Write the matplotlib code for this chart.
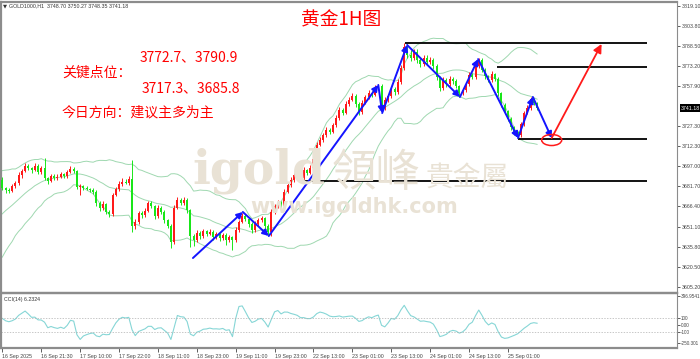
"""
  Gold 1H chart (16 Sep - 25 Sep) with Bollinger bands, CCI(14),
  key levels and the analyst's zigzag / target arrow.
"""

import numpy as np
import pandas as pd
import matplotlib
matplotlib.use("Agg")
import matplotlib.pyplot as plt
import matplotlib.transforms as mtransforms
from matplotlib.patches import Ellipse

CJK = ["Noto Sans CJK SC", "DejaVu Sans"]
SMALL = "Liberation Sans"

# hourly closes, one per bar (bar 0 = 16 Sep 2025)
closes = [
    3680.4, 3678.9, 3678.1, 3681.9, 3684.2, 3690.3, 3693.3, 3697.1, 3695.6, 3694.1,
    3697.1, 3692.6, 3695.6, 3688.0, 3685.7, 3689.5, 3688.0, 3688.8, 3691.0, 3689.5,
    3692.6, 3694.9, 3693.3, 3681.2, 3681.9, 3680.4, 3679.6, 3678.9, 3677.4, 3669.0,
    3665.2, 3668.2, 3662.2, 3660.6, 3675.1, 3679.6, 3683.4, 3685.0, 3684.2, 3687.2,
    3651.5, 3654.6, 3661.4, 3659.9, 3662.9, 3669.0, 3666.7, 3659.1, 3665.2, 3662.2,
    3656.1, 3651.5, 3639.4, 3665.2, 3671.3, 3669.0, 3671.3, 3663.7, 3643.9, 3640.9,
    3646.2, 3643.9, 3647.7, 3645.4, 3647.0, 3643.2, 3645.4, 3642.4, 3644.7, 3640.9,
    3643.2, 3640.9, 3648.5, 3654.6, 3659.1, 3656.9, 3653.0, 3648.5, 3653.0, 3656.1,
    3657.6, 3651.5, 3647.0, 3662.2, 3666.7, 3669.0, 3666.7, 3677.4, 3682.7, 3686.5,
    3690.3, 3691.0, 3688.0, 3694.1, 3691.8, 3695.6, 3702.4, 3713.1, 3716.9, 3720.7,
    3724.5, 3723.0, 3728.3, 3733.6, 3739.7, 3737.4, 3744.3, 3747.3, 3750.3, 3744.3,
    3738.2, 3745.0, 3749.6, 3752.6, 3751.1, 3756.4, 3757.9, 3741.2, 3747.3, 3750.3,
    3755.6, 3753.4, 3761.0, 3771.6, 3787.6, 3781.5, 3779.2, 3783.8, 3777.7, 3774.6,
    3779.2, 3776.2, 3777.7, 3773.1, 3764.8, 3756.4, 3762.5, 3759.4, 3763.2, 3761.7,
    3757.9, 3752.6, 3754.9, 3759.4, 3766.3, 3764.8, 3773.1, 3777.7, 3770.1, 3765.5,
    3762.5, 3767.0, 3763.2, 3752.6, 3743.5, 3738.9, 3732.9, 3726.8, 3722.2, 3720.7,
    3729.0, 3737.4, 3741.2, 3748.0, 3745.0, 3741.18,
]
first_open = 3686.5

# wick lengths above / below the candle body
upper_wick = [
    2.0, 1.0, 1.5, 1.2, 1.5, 2.0, 1.5, 2.5, 1.2, 1.0,
    2.0, 1.5, 1.8, 7.6, 1.0, 1.5, 1.2, 2.0, 1.5, 1.0,
    1.5, 2.0, 1.2, 1.0, 1.5, 1.0, 1.2, 1.0, 1.5, 1.2,
    1.5, 2.0, 1.0, 1.2, 1.5, 1.5, 2.0, 3.0, 2.0, 2.5,
    14.4, 2.0, 1.5, 1.2, 2.0, 1.5, 1.2, 1.0, 2.0, 1.5,
    1.2, 1.0, 1.5, 2.0, 2.5, 1.2, 2.0, 1.5, 1.0, 1.5,
    2.0, 1.2, 1.5, 1.0, 2.0, 1.2, 1.5, 1.0, 1.5, 1.2,
    1.5, 1.0, 2.0, 1.5, 2.0, 1.2, 1.0, 1.5, 2.0, 1.5,
    1.2, 1.0, 1.5, 2.0, 1.5, 2.0, 1.2, 2.0, 1.5, 2.0,
    1.5, 2.0, 1.2, 2.5, 1.0, 2.0, 1.5, 2.0, 2.5, 1.5,
    2.0, 1.5, 1.8, 2.0, 2.5, 1.5, 2.0, 2.0, 2.5, 1.5,
    1.2, 2.0, 1.5, 2.0, 1.5, 2.0, 1.5, 1.5, 2.0, 1.8,
    2.0, 1.5, 2.0, 2.5, 3.0, 2.0, 3.5, 2.0, 2.5, 1.5,
    2.0, 2.5, 2.0, 1.5, 1.5, 1.0, 2.0, 1.5, 2.0, 1.5,
    1.2, 1.0, 1.5, 1.5, 2.0, 1.5, 2.0, 1.5, 1.2, 1.5,
    1.0, 2.0, 1.2, 1.5, 1.0, 1.2, 1.0, 1.5, 1.0, 1.2,
    1.5, 1.5, 2.0, 1.5, 1.2, 1.0,
]
lower_wick = [
    1.5, 2.0, 1.5, 1.0, 1.2, 1.5, 2.0, 1.0, 1.5, 2.0,
    1.0, 1.5, 1.2, 1.5, 2.5, 1.0, 1.5, 1.2, 1.0, 1.5,
    1.2, 1.0, 1.5, 1.5, 6.0, 1.5, 1.0, 1.2, 1.5, 2.0,
    2.0, 1.5, 1.2, 2.0, 1.5, 1.0, 1.2, 1.5, 1.0, 1.2,
    4.6, 2.0, 1.5, 2.0, 1.2, 1.0, 1.5, 2.0, 1.2, 1.5,
    2.0, 1.5, 4.6, 1.5, 1.0, 1.5, 1.2, 2.0, 8.4, 4.6,
    1.5, 2.0, 1.2, 1.5, 1.0, 2.0, 1.5, 2.0, 1.5, 3.8,
    1.5, 7.6, 1.2, 1.5, 1.0, 1.5, 2.0, 2.0, 1.5, 1.2,
    1.5, 2.0, 2.5, 3.0, 1.5, 1.2, 1.5, 1.2, 1.0, 1.5,
    1.2, 1.0, 1.5, 1.2, 1.5, 1.0, 1.2, 1.5, 1.0, 1.2,
    1.5, 1.2, 1.0, 1.5, 1.2, 1.5, 1.0, 1.2, 1.0, 2.0,
    2.3, 1.5, 1.0, 1.2, 1.5, 1.0, 1.2, 3.0, 1.5, 1.2,
    1.5, 2.0, 1.2, 1.5, 1.5, 2.0, 2.5, 1.5, 2.0, 2.0,
    1.5, 2.0, 1.5, 2.0, 2.5, 2.0, 1.5, 2.0, 1.5, 2.0,
    1.5, 3.0, 1.5, 1.2, 1.5, 1.2, 1.5, 1.2, 1.5, 2.0,
    1.5, 1.2, 1.5, 2.0, 1.5, 2.0, 1.5, 2.0, 1.5, 2.3,
    1.2, 1.5, 1.0, 1.2, 1.5, 1.2,
]

# closes before the visible window, only used to warm up the indicators
warmup_close = [
    3634.0, 3631.5, 3637.2, 3641.0, 3639.4, 3645.8, 3650.1, 3648.7, 3655.3, 3659.0,
    3657.2, 3663.5, 3668.1, 3666.0, 3672.4, 3676.8, 3674.9, 3681.3, 3685.0, 3683.6,
]

time_label_bars = [0, 12, 24, 36, 48, 60, 72, 84, 96, 108, 120, 132, 144, 156]
time_labels = ["16 Sep 2025", "16 Sep 21:30", "17 Sep 10:00", "17 Sep 22:00",
               "18 Sep 11:00", "18 Sep 23:00", "19 Sep 11:00", "19 Sep 23:00",
               "22 Sep 13:00", "23 Sep 01:00", "23 Sep 13:00", "24 Sep 01:00",
               "24 Sep 13:00", "25 Sep 01:00"]

price_ticks = [3819.10, 3803.80, 3788.50, 3773.20, 3757.90, 3727.30, 3712.30,
               3697.00, 3681.70, 3666.40, 3651.10, 3635.80, 3620.50, 3605.20]
cci_ticks = [396.9541, 100, 0, -100, -250.301]
cci_tick_labels = ["396.9541", "100", "0.00", "-100", "-250.301"]

key_levels = [3790.9, 3772.7, 3717.3, 3685.8]
key_level_start = [124.3, 152.6, 159.1, 92.9]
key_level_end = 198.8

zigzag_bar = [58.8, 74.2, 82.2, 116.0, 117.2, 124.9, 141.2, 146.8, 159.1, 163.7, 169.5]
zigzag_price = [3627.2, 3662.2, 3643.9, 3758.7, 3737.4, 3789.1, 3749.6, 3778.4,
                3718.4, 3749.6, 3718.4]
target_bar = [169.5, 184.9]
target_price = [3718.4, 3789.9]

W, H = 700, 359


def fpos(x, y):
    """pixel position -> figure fraction"""
    return x / W, 1 - y / H


def ohlc():
    c = np.array(closes)
    o = np.array([first_open] + closes[:-1])
    h = np.maximum(o, c) + np.array(upper_wick)
    l = np.minimum(o, c) - np.array(lower_wick)
    return o, h, l, c


def style_axes(ax, label_size=3.8):
    for side in ["left", "top", "bottom"]:
        ax.spines[side].set_color("#8c8c8c")
        ax.spines[side].set_linewidth(1.6)
    ax.spines["right"].set_color("#8c8c8c")
    ax.spines["right"].set_linewidth(0.8)
    ax.yaxis.tick_right()
    ax.tick_params(axis="y", length=2, width=0.6, pad=1, labelsize=label_size,
                   colors="#444444")
    for lab in ax.get_yticklabels():
        lab.set_family(SMALL)


def main():
    plt.rcParams["font.family"] = CJK
    o, h, l, c = ohlc()
    n0 = len(warmup_close)

    fig = plt.figure(figsize=(W / 100, H / 100), dpi=100)
    ax = fig.add_axes([0.002, 1 - 293 / H, 676 / W, 291 / H])
    axc = fig.add_axes([0.002, 1 - 348 / H, 676 / W, 55 / H], sharex=ax)

    # watermark
    wm = "#e9e2d5"
    fig.text(*fpos(192, 183), "igold", fontsize=34, family="DejaVu Serif",
             fontweight="bold", color=wm, va="baseline", zorder=0)
    fig.text(*fpos(332, 186), "領峰", fontsize=32, family="Noto Sans CJK TC",
             color=wm, va="baseline", zorder=0)
    fig.text(*fpos(426, 186), "貴金屬", fontsize=20, family="Noto Sans CJK TC",
             color=wm, va="baseline", zorder=0)
    fig.text(*fpos(250, 207), "www.igoldhk.com", fontsize=15, family="DejaVu Sans",
             fontweight="bold", color=wm, va="center", zorder=0)
    ax.set_facecolor("none")
    axc.set_facecolor("none")

    # bollinger bands (20, 2)
    s = pd.Series(warmup_close + closes)
    mid = s.rolling(20).mean()
    sd = s.rolling(20).std(ddof=0)
    bx = np.arange(len(s)) - n0
    for band in [mid, mid + 2 * sd, mid - 2 * sd]:
        ax.plot(bx, band, color="#9fd8b0", lw=0.7, zorder=2)

    # candles: red = up, green = down
    idx = np.arange(len(c))
    colors = np.where(c >= o, "#ff1a1a", "#19e619")
    ax.vlines(idx, l, h, colors=colors, lw=0.7, zorder=3)
    ax.bar(idx, np.maximum(np.abs(c - o), 0.5), bottom=np.minimum(o, c),
           width=0.62, color=colors, lw=0, zorder=3)

    # key levels
    ax.hlines(key_levels, key_level_start, key_level_end, colors="black",
              lw=1.3, zorder=4)

    # zigzag
    for k in range(len(zigzag_bar) - 1):
        ax.annotate("", xy=(zigzag_bar[k + 1], zigzag_price[k + 1]),
                    xytext=(zigzag_bar[k], zigzag_price[k]),
                    arrowprops=dict(arrowstyle="-|>,head_length=0.35,head_width=0.18",
                                    color="#1414ff", lw=1.4, shrinkA=0, shrinkB=0),
                    zorder=5)
    ax.annotate("", xy=(target_bar[1], target_price[1]),
                xytext=(target_bar[0], target_price[0]),
                arrowprops=dict(arrowstyle="-|>,head_length=0.5,head_width=0.25",
                                color="#ff1a1a", lw=1.3, shrinkA=0, shrinkB=0),
                zorder=5)
    ax.add_patch(Ellipse((target_bar[0], target_price[0] - 1.5), 6.2, 8.4,
                         fill=False, ec="#ff1a1a", lw=1.1, zorder=5))

    ax.set_xlim(-0.31, 208.3)
    ax.set_ylim(3600.6, 3821.8)
    ax.set_yticks(price_ticks)
    ax.set_yticklabels([f"{p:.2f}" for p in price_ticks])
    style_axes(ax)
    ax.tick_params(axis="x", bottom=False, labelbottom=False)

    # current price box
    trans = mtransforms.blended_transform_factory(ax.transAxes, ax.transData)
    ax.text(1.005, closes[-1], f"{closes[-1]:.2f}", transform=trans, fontsize=3.8,
            color="white", va="center", ha="left", family=SMALL,
            bbox=dict(fc="black", ec="none", pad=0.8), zorder=6)

    # CCI(14)
    tp = pd.Series(warmup_close + list((h + l + c) / 3))
    sma = tp.rolling(14).mean()
    md = tp.rolling(14).apply(lambda w: np.mean(np.abs(w - w.mean())), raw=True)
    cci = (tp - sma) / (0.015 * md)
    axc.plot(bx, cci, color="#86d6d6", lw=0.8)
    for lvl in [100, -100]:
        axc.axhline(lvl, color="#b0b0b0", lw=0.5, ls=(0, (2, 2)))
    axc.set_ylim(-319, 438)
    axc.set_yticks(cci_ticks)
    axc.set_yticklabels(cci_tick_labels)
    style_axes(axc, label_size=3.3)
    axc.tick_params(axis="y", pad=0.5)
    axc.set_xticks(time_label_bars)
    axc.set_xticklabels(time_labels, ha="left", family=SMALL)
    axc.tick_params(axis="x", length=3, width=0.6, pad=1, labelsize=3.8,
                    colors="#444444")
    axc.text(0.004, 0.93, "CCI(14) 6.2324", transform=axc.transAxes, fontsize=3.8,
             color="#333333", va="top", family=SMALL)

    # header and analyst notes
    fig.text(*fpos(3, 6), "\u25bc", fontsize=3.8, color="#333333", va="center",
             family="DejaVu Sans")
    fig.text(*fpos(9, 6), "GOLD1000,H1  3748.70 3750.27 3748.35 3741.18",
             fontsize=3.8, color="#333333", va="center", family=SMALL)
    red = "#ff0000"
    fig.text(*fpos(341, 20), "黄金1H图", fontsize=13.5, color=red,
             ha="center", va="center")
    fig.text(*fpos(140, 57), "3772.7、3790.9", fontsize=10, color=red, va="center")
    fig.text(*fpos(62, 73), "关键点位：", fontsize=10, color=red, va="center")
    fig.text(*fpos(142, 88), "3717.3、3685.8", fontsize=10, color=red, va="center")
    fig.text(*fpos(62, 112), "今日方向：建议主多为主", fontsize=10, color=red,
             va="center")

    fig.savefig("out.png", dpi=100, facecolor="white")


if __name__ == "__main__":
    main()
